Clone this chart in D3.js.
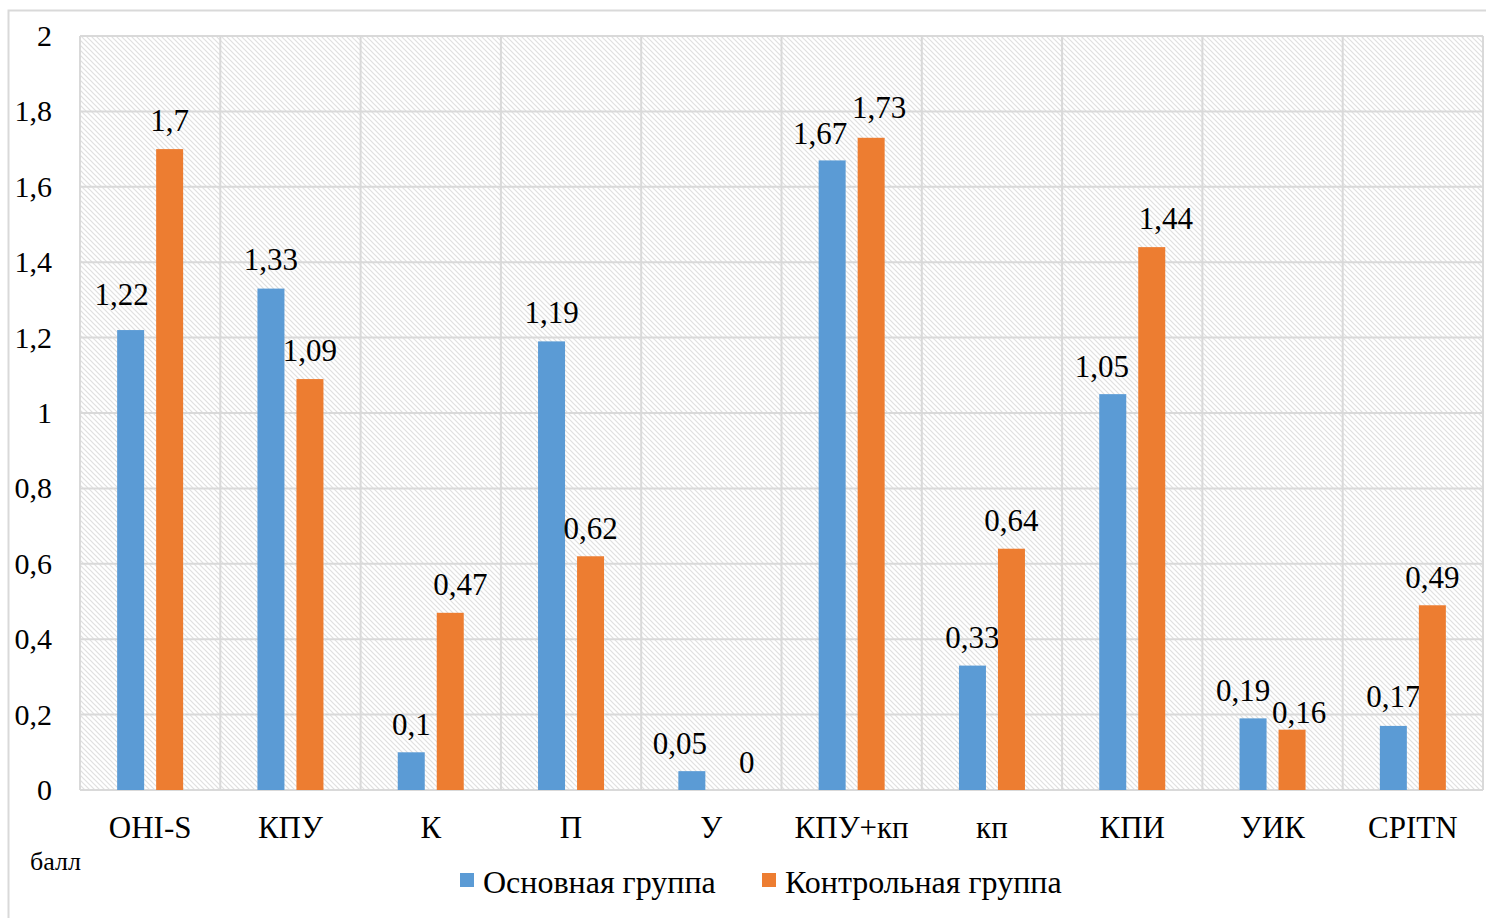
<!DOCTYPE html>
<html>
<head>
<meta charset="utf-8">
<script src="https://cdn.jsdelivr.net/npm/d3@7/dist/d3.min.js"></script>
<style>
  html, body { margin: 0; padding: 0; background: #fff; }
  svg { display: block; }
  text { font-family: "Liberation Serif", "Times New Roman", serif; fill: #000; }
</style>
</head>
<body>
<svg id="chart" width="1486" height="918"></svg>
<script>
// Index values per category for the two groups
const categories = ["OHI-S", "КПУ", "К", "П", "У", "КПУ+кп", "кп", "КПИ", "УИК", "CPITN"];
const mainGroup = [1.22, 1.33, 0.1, 1.19, 0.05, 1.67, 0.33, 1.05, 0.19, 0.17];
const controlGroup = [1.7, 1.09, 0.47, 0.62, 0, 1.73, 0.64, 1.44, 0.16, 0.49];
const seriesNames = ["Основная группа", "Контрольная группа"];
const yTicks = [0, 0.2, 0.4, 0.6, 0.8, 1, 1.2, 1.4, 1.6, 1.8, 2];
const yUnit = "балл";

// small shifts [dx, dy] that keep neighbouring value labels apart
const mainLabelShift = [[-9, -8], [0, -1], [0, 0], [0, -1], [-12, 0], [-12, 1], [0, 0], [-11, 0], [-10, 0], [0, -1]];
const controlLabelShift = [[0, -1], [0, -1], [10, 0], [0, 0], [16, 0], [8, -2], [0, 0], [14, -1], [7, 11], [0, 0]];

const colors = ["#5b9bd5", "#ed7d31"];
const grid = "#d9d9d9";
const fmt = v => String(v).replace(".", ",");

const svg = d3.select("#chart");
const plot = { left: 80, top: 36, right: 1483, bottom: 790 };

// diagonal hatch fill for the plot area
const defs = svg.append("defs");
const pat = defs.append("pattern")
  .attr("id", "hatch").attr("patternUnits", "userSpaceOnUse")
  .attr("width", 5).attr("height", 5);
pat.append("rect").attr("width", 5).attr("height", 5).attr("fill", "#fff");
pat.append("path").attr("d", "M-1,-1 L6,6 M-1,4 L1,6 M4,-1 L6,1")
  .attr("stroke", "#e0e0e0").attr("stroke-width", 1.2);

// outer chart frame
svg.append("rect").attr("x", 8.5).attr("y", 10.5).attr("width", 1500).attr("height", 920)
  .attr("fill", "none").attr("stroke", grid).attr("stroke-width", 2);

const x = d3.scaleBand().domain(categories).range([plot.left, plot.right]).padding(0);
const y = d3.scaleLinear().domain([0, 2]).range([plot.bottom, plot.top]);

svg.append("rect").attr("x", plot.left).attr("y", plot.top)
  .attr("width", plot.right - plot.left).attr("height", plot.bottom - plot.top)
  .attr("fill", "url(#hatch)");

// horizontal grid lines
svg.append("g").selectAll("line").data(yTicks).join("line")
  .attr("x1", plot.left).attr("x2", plot.right)
  .attr("y1", d => y(d)).attr("y2", d => y(d))
  .attr("stroke", grid).attr("stroke-width", 2);

// vertical category separators
const bounds = categories.map(c => x(c)).concat([plot.right]);
svg.append("g").selectAll("line").data(bounds).join("line")
  .attr("x1", d => d).attr("x2", d => d)
  .attr("y1", plot.top).attr("y2", plot.bottom)
  .attr("stroke", grid).attr("stroke-width", 2);

function label(g, tx, ty, str, size, anchor) {
  return g.append("text")
    .attr("x", tx).attr("y", ty)
    .attr("text-anchor", anchor)
    .attr("font-size", size)
    .text(str);
}

// y tick labels
const yAxis = svg.append("g");
yTicks.forEach(t => label(yAxis, 52, y(t) + 10, fmt(t), 30, "end"));

// x category labels
const xAxis = svg.append("g");
categories.forEach(c => label(xAxis, x(c) + x.bandwidth() / 2, 838, c, 31, "middle"));

// bars and value labels
const barW = 27, offset = 19.5;
const series = [mainGroup, controlGroup];
const shifts = [mainLabelShift, controlLabelShift];
series.forEach((vals, si) => {
  const g = svg.append("g");
  const cx = c => x(c) + x.bandwidth() / 2 + (si === 0 ? -offset : offset);
  g.selectAll("rect").data(categories).join("rect")
    .attr("x", c => cx(c) - barW / 2)
    .attr("width", barW)
    .attr("y", (c, i) => y(vals[i]))
    .attr("height", (c, i) => y(0) - y(vals[i]))
    .attr("fill", colors[si]);
  categories.forEach((c, i) => {
    const [dx, dy] = shifts[si][i];
    label(g, cx(c) + dx, y(vals[i]) - 17.5 + dy, fmt(vals[i]), 31, "middle");
  });
});

// unit caption
label(svg, 30, 870, yUnit, 26, "start");

// legend
const legend = svg.append("g");
const legendX = [460, 762];
seriesNames.forEach((n, i) => {
  legend.append("rect").attr("x", legendX[i]).attr("y", 873).attr("width", 14).attr("height", 14)
    .attr("fill", colors[i]);
  label(legend, legendX[i] + 23, 893, n, 32, "start");
});
</script>
</body>
</html>
